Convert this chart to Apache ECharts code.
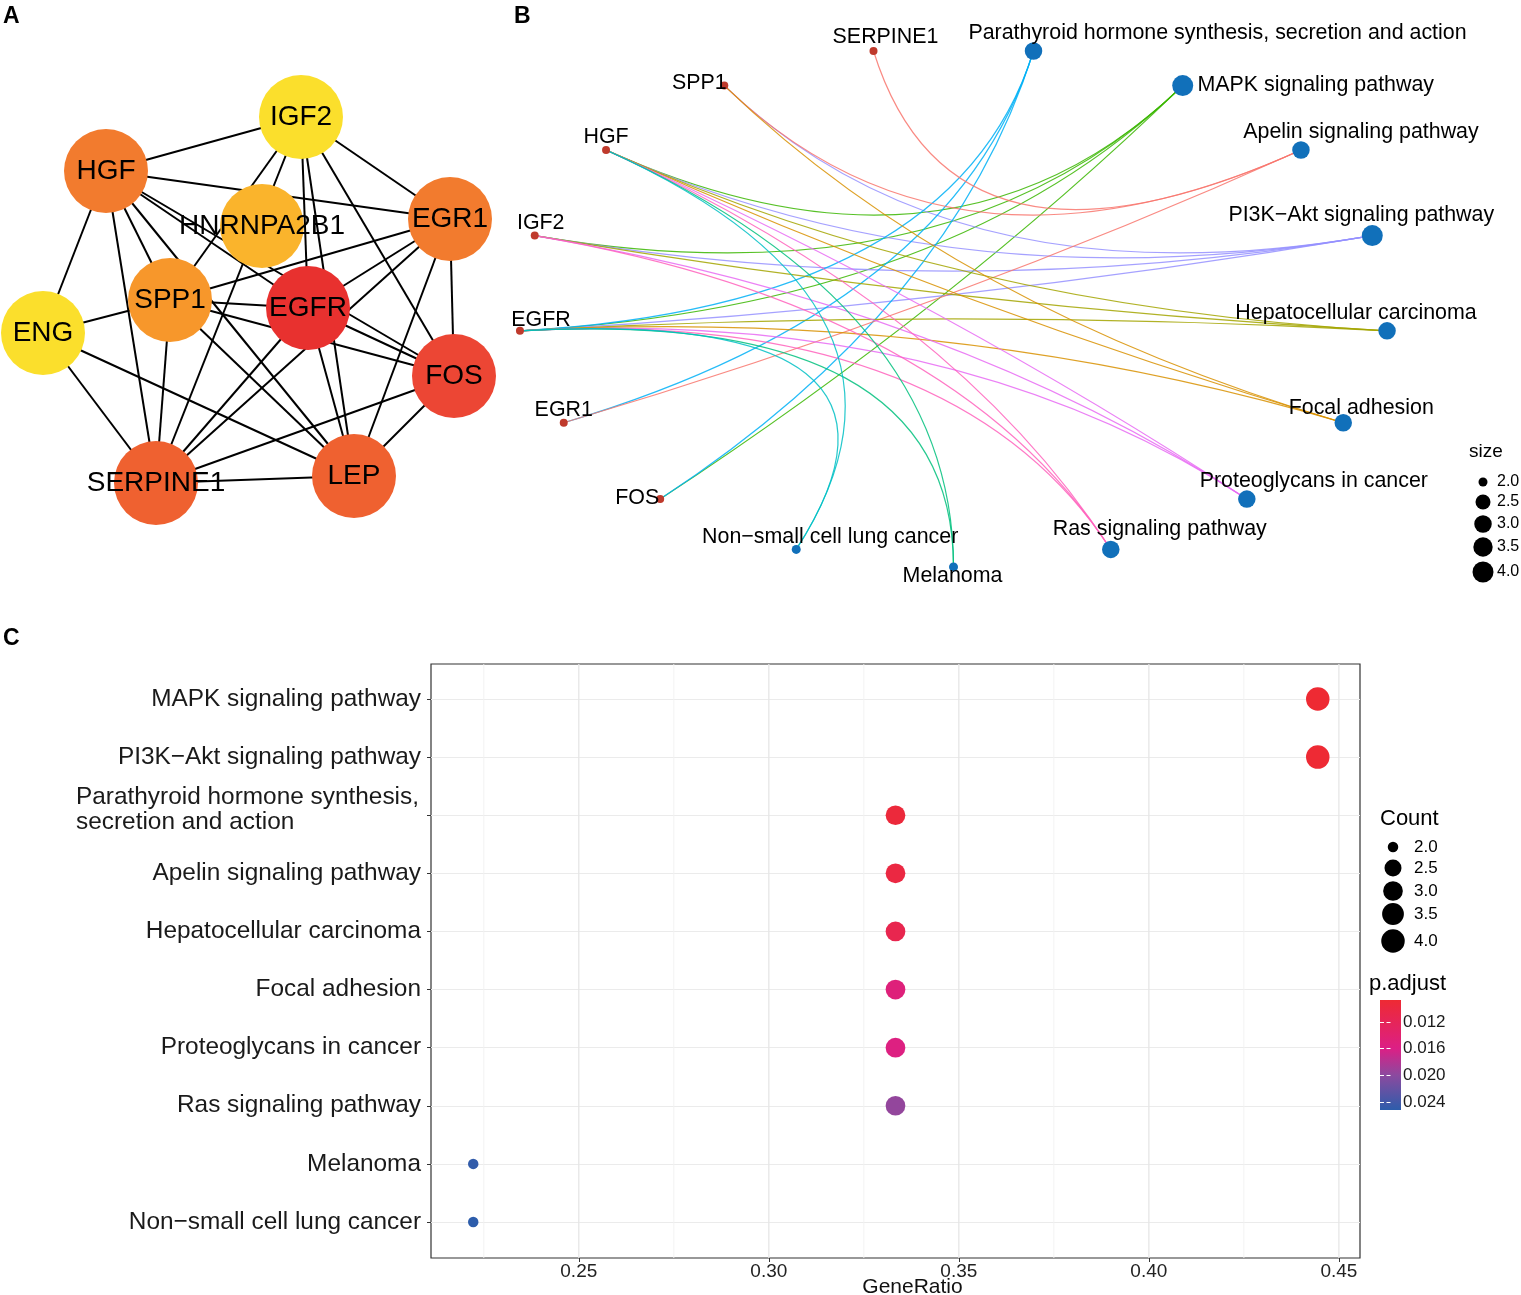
<!DOCTYPE html>
<html><head><meta charset="utf-8">
<script src="https://cdn.jsdelivr.net/npm/echarts@6/dist/echarts.min.js"></script>
<style>html,body{margin:0;padding:0;background:#fff}#c{width:1521px;height:1295px}</style>
</head><body><div id="c"></div>
<script>
// ================= DATA =================
// Panel A: PPI network (node names, fixed network layout from the network file, edges)
const ppiGenes = ['IGF2','HGF','HNRNPA2B1','EGR1','SPP1','EGFR','ENG','FOS','SERPINE1','LEP'];
const ppiLayout = [[301,117],[106,171],[262,226],[450,219],[170,300],[308,308],[43,333],[454,376],[156,483],[354,476]];
const ppiEdges = [
  ['IGF2','HGF'],['IGF2','EGR1'],['IGF2','SPP1'],['IGF2','SERPINE1'],['IGF2','EGFR'],['IGF2','LEP'],['IGF2','FOS'],
  ['HGF','EGR1'],['HGF','EGFR'],['HGF','FOS'],['HGF','SPP1'],['HGF','LEP'],['HGF','SERPINE1'],['HGF','ENG'],
  ['EGR1','SPP1'],['EGR1','EGFR'],['EGR1','LEP'],['EGR1','FOS'],['EGR1','SERPINE1'],
  ['SPP1','EGFR'],['SPP1','FOS'],['SPP1','LEP'],['SPP1','SERPINE1'],['SPP1','ENG'],
  ['EGFR','FOS'],['EGFR','LEP'],['EGFR','SERPINE1'],
  ['ENG','SERPINE1'],['ENG','LEP'],['FOS','SERPINE1'],['FOS','LEP'],['SERPINE1','LEP']
];

// Panels B & C: KEGG enrichment
const pathways = ['MAPK signaling pathway','PI3K\u2212Akt signaling pathway','Parathyroid hormone synthesis, secretion and action',
  'Apelin signaling pathway','Hepatocellular carcinoma','Focal adhesion','Proteoglycans in cancer',
  'Ras signaling pathway','Melanoma','Non\u2212small cell lung cancer'];
const geneRatio = [4/9,4/9,3/9,3/9,3/9,3/9,3/9,3/9,2/9,2/9];
const counts = [4,4,3,3,3,3,3,3,2,2];
const pAdjust = [0.0087,0.0088,0.0094,0.0100,0.0112,0.0150,0.0156,0.0196,0.0249,0.0252];
const pathwayGenes = [
  ['EGFR','HGF','IGF2','FOS'], ['EGFR','HGF','IGF2','SPP1'], ['EGFR','EGR1','FOS'], ['EGR1','SERPINE1','SPP1'],
  ['EGFR','HGF','IGF2'], ['EGFR','HGF','SPP1'], ['EGFR','HGF','IGF2'], ['EGFR','HGF','IGF2'], ['EGFR','HGF'], ['EGFR','HGF']
];
// circular layout order of the gene-concept network (panel B)
const cnetOrder = ['Melanoma','Ras signaling pathway','Proteoglycans in cancer','Focal adhesion','Hepatocellular carcinoma',
  'PI3K\u2212Akt signaling pathway','Apelin signaling pathway','MAPK signaling pathway',
  'Parathyroid hormone synthesis, secretion and action','SERPINE1','SPP1','HGF','IGF2','EGFR','EGR1','FOS',
  'Non\u2212small cell lung cancer'];
// legend breaks, colourbar ticks, axis breaks
const sizeBreaks = [2.0,2.5,3.0,3.5,4.0];
const pTicks = [0.012,0.016,0.020,0.024];
const xTicks = [0.25,0.30,0.35,0.40,0.45];
const xMinor = [0.225,0.275,0.325,0.375,0.425];

// ================= STYLE =================
const FONT = '"Liberation Sans", Arial, Helvetica, sans-serif';
const ppiColor = {IGF2:'#FBDF2C',ENG:'#FBDF2C',HNRNPA2B1:'#FAB42C',SPP1:'#F7972B',HGF:'#F27B2E',EGR1:'#F27B2E',
  SERPINE1:'#EF6130',LEP:'#EF6130',FOS:'#EC4634',EGFR:'#E8312F'};
const hue = {'Apelin signaling pathway':'#F8766D','Focal adhesion':'#D89000','Hepatocellular carcinoma':'#A3A500',
  'MAPK signaling pathway':'#39B600','Melanoma':'#00BF7D','Non\u2212small cell lung cancer':'#00BFC4',
  'Parathyroid hormone synthesis, secretion and action':'#00B0F6','PI3K\u2212Akt signaling pathway':'#9590FF',
  'Proteoglycans in cancer':'#E76BF3','Ras signaling pathway':'#FF62BC'};
const cnetLabelOffset = {'SERPINE1':[12,-14],'SPP1':[-25,-2],'HGF':[0,-13],'IGF2':[6,-12],'EGFR':[21,-11],'EGR1':[0,-13],
  'FOS':[-23,-1],'Non\u2212small cell lung cancer':[34,-12],'Melanoma':[-1,9],'Ras signaling pathway':[49,-20],
  'Proteoglycans in cancer':[67,-18],'Focal adhesion':[18,-15],'Hepatocellular carcinoma':[-31,-18],
  'PI3K\u2212Akt signaling pathway':[-11,-20],'Apelin signaling pathway':[60,-18],'MAPK signaling pathway':[133,0],
  'Parathyroid hormone synthesis, secretion and action':[184,-18]};
const gradStops = [[0,'#EE2A33'],[0.44,'#DC1F85'],[0.685,'#8B4A9F'],[1,'#2D5DAB']];

// ================= HELPERS =================
const cMin = Math.min(...counts), cMax = Math.max(...counts);
const sizeB = c => 9 + 12*Math.sqrt((c-cMin)/(cMax-cMin));
const sizeC = c => 10.5 + 13*Math.sqrt((c-cMin)/(cMax-cMin));
const pMin = Math.min(...pAdjust), pMax = Math.max(...pAdjust);
function hexToRgb(h){return [1,3,5].map(i=>parseInt(h.substr(i,2),16));}
function pColor(p){
  const t = (p-pMin)/(pMax-pMin);
  for (let i=1;i<gradStops.length;i++){
    if (t <= gradStops[i][0] + 1e-9){
      const [t0,c0]=gradStops[i-1],[t1,c1]=gradStops[i];
      const u=(t-t0)/(t1-t0), a=hexToRgb(c0), b=hexToRgb(c1);
      return 'rgb('+a.map((v,k)=>Math.round(v+(b[k]-v)*u)).join(',')+')';
    }
  }
  return gradStops[gradStops.length-1][1];
}
function cnetXY(name){
  const k = cnetOrder.indexOf(name);
  const a = (270 + k*360/cnetOrder.length)*Math.PI/180;
  return [Math.cos(a), Math.sin(a)];
}
const grMin = Math.min(...geneRatio), grMax = Math.max(...geneRatio), grPad = 0.05*(grMax-grMin);
const xMin = grMin-grPad, xMax = grMax+grPad;

// B edges and nodes
const edgeData = [];
pathways.forEach((p,i)=>pathwayGenes[i].forEach(g=>{const a=cnetXY(g), b=cnetXY(p); edgeData.push([a[0],a[1],b[0],b[1],i]);}));
const nodeData = cnetOrder.map(n=>{
  const pi = pathways.indexOf(n), isPath = pi >= 0;
  return {name:n, value:cnetXY(n), symbolSize: isPath ? sizeB(counts[pi]) : 8,
    itemStyle:{color: isPath ? '#1170BA' : '#BF3A2C', opacity:1}, label:{offset: cnetLabelOffset[n]}};
});
// C grid lines: [value, isMajor]
const gridLineData = xMinor.map(v=>[v,0]).concat(xTicks.map(v=>[v,1]));

function wrapLabel(v){
  if (v.length > 40){
    const i = v.indexOf(', ');
    return '{w|'+v.slice(0,i+1)+'}\n{w|'+v.slice(i+2)+'}\n{g|}';
  }
  return v;
}

// legends (graphic)
const graphic = [];
function txt(x,y,s,size,opt){graphic.push(Object.assign({type:'text',x:x,y:y,silent:true,
  style:Object.assign({text:s,fontSize:size,fontFamily:FONT,fill:'#000',align:'left',verticalAlign:'middle'},opt||{})}));}
txt(3,17,'A',23,{fontWeight:'bold'});
txt(514,17,'B',23,{fontWeight:'bold'});
txt(3,639,'C',23,{fontWeight:'bold'});
txt(1469,452,'size',19);
const yB = [482,502,524,547,572];
sizeBreaks.forEach((s,i)=>{graphic.push({type:'circle',silent:true,shape:{cx:1483,cy:yB[i],r:sizeB(s)/2},style:{fill:'#000'}}); txt(1497,yB[i],s.toFixed(1),16);});
txt(1380,819,'Count',22);
const yC = [847,868,891,914,941];
sizeBreaks.forEach((s,i)=>{graphic.push({type:'circle',silent:true,shape:{cx:1393,cy:yC[i],r:sizeC(s)/2},style:{fill:'#000'}}); txt(1414,yC[i],s.toFixed(1),17);});
txt(1369,984,'p.adjust',22);

const G = {outerBoundsMode:'none', containLabel:false};
const option = {
  animation:false, backgroundColor:'#fff', textStyle:{fontFamily:FONT},
  graphic: graphic,
  grid:[
    Object.assign({left:0, top:0, width:510, height:540}, G),
    Object.assign({left:518.1, top:46.6, width:870.8, height:520.4}, G),
    Object.assign({left:431, top:664, width:929, height:594, show:true, borderColor:'#333', borderWidth:1.2, backgroundColor:'transparent'}, G),
    Object.assign({left:431, top:699, width:929, height:523}, G),
    Object.assign({left:1380, top:1000, width:21, height:110}, G)
  ],
  xAxis:[
    {gridIndex:0, type:'value', min:0, max:510, show:false},
    {gridIndex:1, type:'value', min:-1, max:1, show:false},
    {gridIndex:2, type:'value', min:xMin, max:xMax, name:'GeneRatio', nameLocation:'middle', nameGap:19, nameMoveOverlap:false,
      nameTextStyle:{fontSize:21, color:'#111', verticalAlign:'top', padding:[0,0,0,34]},
      axisLine:{show:false},
      axisTick:{show:true, length:4, lineStyle:{color:'#333'}, customValues:xTicks},
      axisLabel:{customValues:xTicks, fontSize:19, color:'#222', margin:4, formatter:v=>Number(v).toFixed(2)},
      splitLine:{show:false}},
    {gridIndex:3, type:'value', min:xMin, max:xMax, show:false},
    {gridIndex:4, type:'value', min:-1, max:1, show:false}
  ],
  yAxis:[
    {gridIndex:0, type:'value', min:0, max:540, inverse:true, show:false},
    {gridIndex:1, type:'value', min:-1, max:1, show:false},
    {gridIndex:2, type:'value', min:0, max:1, show:false},
    {gridIndex:3, type:'category', data:pathways, inverse:true, boundaryGap:false,
      axisLine:{show:false},
      axisTick:{show:true, length:4, lineStyle:{color:'#333'}},
      axisLabel:{interval:0, fontSize:24.4, color:'#1a1a1a', margin:10, formatter:wrapLabel,
        rich:{w:{width:345, align:'left', fontSize:24.4, lineHeight:25, color:'#1a1a1a'}, g:{height:10, lineHeight:10}}},
      splitLine:{show:true, lineStyle:{color:'#EBEBEB', width:1.2}}},
    {gridIndex:4, type:'value', min:pMin, max:pMax, inverse:true, position:'right', z:10,
      axisLine:{show:false},
      axisTick:{show:true, inside:true, length:4, lineStyle:{color:'#fff', width:1}, customValues:pTicks},
      axisLabel:{customValues:pTicks, fontSize:17, color:'#1a1a1a', margin:2, formatter:v=>Number(v).toFixed(3)},
      splitLine:{show:false}},
    {gridIndex:4, type:'value', min:pMin, max:pMax, inverse:true, position:'left', z:10,
      axisLine:{show:false},
      axisTick:{show:true, inside:true, length:4, lineStyle:{color:'#fff', width:1}, customValues:pTicks},
      axisLabel:{show:false}, splitLine:{show:false}}
  ],
  series:[
    { // A: PPI network
      type:'graph', coordinateSystem:'cartesian2d', xAxisIndex:0, yAxisIndex:0, z:2,
      data: ppiGenes.map((g,i)=>({name:g, value:ppiLayout[i], itemStyle:{color:ppiColor[g], opacity:1}})),
      links: ppiEdges.map(e=>({source:e[0], target:e[1]})),
      symbol:'circle', symbolSize:84,
      lineStyle:{color:'#000', width:2, opacity:1, curveness:0},
      label:{show:true, position:'inside', fontSize:28, color:'#000', fontFamily:FONT},
      emphasis:{disabled:true}
    },
    { // B: edges (arcs bending toward the circle centre)
      type:'custom', xAxisIndex:1, yAxisIndex:1, z:2, silent:true,
      data: edgeData, encode:{x:[0,2], y:[1,3]},
      renderItem:(params, api)=>{
        const p0 = api.coord([api.value(0), api.value(1)]);
        const p1 = api.coord([api.value(2), api.value(3)]);
        const c = api.coord([0,0]);
        return {type:'bezierCurve', shape:{x1:p0[0],y1:p0[1],x2:p1[0],y2:p1[1],cpx1:c[0],cpy1:c[1]},
          style:{stroke:hue[pathways[api.value(4)]], lineWidth:1.2, fill:'none', opacity:0.85}};
      }
    },
    { // B: nodes
      type:'scatter', xAxisIndex:1, yAxisIndex:1, z:3, data:nodeData,
      itemStyle:{opacity:1},
      label:{show:true, position:'inside', formatter:'{b}', fontSize:21.4, color:'#000', fontFamily:FONT},
      emphasis:{disabled:true}
    },
    { // C: major + minor vertical grid lines
      type:'custom', xAxisIndex:2, yAxisIndex:2, z:1, silent:true,
      data: gridLineData, encode:{x:0},
      renderItem:(params, api)=>{
        const a = api.coord([api.value(0), 0]), b = api.coord([api.value(0), 1]);
        const major = api.value(1) === 1;
        return {type:'line', shape:{x1:a[0], y1:a[1], x2:b[0], y2:b[1]},
          style:{stroke: major ? '#E6E6E6' : '#F2F2F2', lineWidth: major ? 1.3 : 0.9}};
      }
    },
    { // C: dot plot
      type:'scatter', xAxisIndex:3, yAxisIndex:3, z:5,
      data: pathways.map((p,i)=>({value:[geneRatio[i], p, pAdjust[i], counts[i]], itemStyle:{color:pColor(pAdjust[i]), opacity:1}})),
      symbolSize: v=>sizeC(v[3]),
      emphasis:{disabled:true}
    },
    { // C: colourbar
      type:'custom', xAxisIndex:4, yAxisIndex:4, z:2, silent:true,
      data:[[0, pMin, pMax]], encode:{x:0, y:[1,2]},
      renderItem:(params, api)=>{
        const cs = params.coordSys;
        const top = api.coord([0, api.value(1)])[1], bot = api.coord([0, api.value(2)])[1];
        return {type:'rect', shape:{x:cs.x, y:top, width:cs.width, height:bot-top},
          style:{fill:{type:'linear', x:0, y:0, x2:0, y2:1, colorStops: gradStops.map(s=>({offset:s[0], color:s[1]}))}}};
      }
    }
  ]
};
const chart = echarts.init(document.getElementById('c'), null, {renderer:'canvas'});
chart.setOption(option);
</script></body></html>
